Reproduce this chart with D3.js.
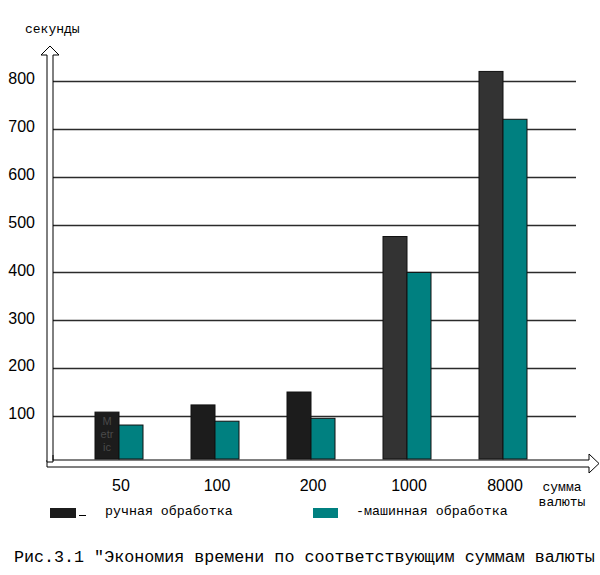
<!DOCTYPE html>
<html><head><meta charset="utf-8">
<script src="https://cdn.jsdelivr.net/npm/d3@7"></script>
<style>body{margin:0;background:#fff}svg{display:block}</style>
</head><body>
<svg id="c" width="600" height="575"></svg>
<script>
const categories = ["50", "100", "200", "1000", "8000"];
const manual = [108, 123, 150, 475, 820];
const machine = [81, 89, 95, 400, 720];
const yTicks = [100, 200, 300, 400, 500, 600, 700, 800];
const seriesNames = ["ручная обработка", "-машинная обработка"];
const yTitle = "секунды";
const xTitle = ["сумма", "валюты"];
const caption = "Рис.3.1 \"Экономия времени по соответствующим суммам валюты";
const barNote = ["M", "etr", "ic"];

const svg = d3.select("#c");
const mono = "'Liberation Mono','Courier New',monospace";
const sans = "'Liberation Sans',Arial,sans-serif";

const y = d3.scaleLinear().domain([10, 800]).range([459, 81]);
const x0 = d3.scaleBand().domain(categories).range([71, 551]).padding(0);
const x1 = d3.scaleBand().domain(["manual", "machine"])
  .range([x0.bandwidth() * 0.25, x0.bandwidth() * 0.75]).padding(0);

// gridlines
svg.append("g").selectAll("line").data(yTicks).join("line")
  .attr("x1", 53).attr("x2", 576)
  .attr("y1", d => Math.round(y(d)) + 0.5).attr("y2", d => Math.round(y(d)) + 0.5)
  .attr("stroke", "#2b2b2b").attr("stroke-width", 1.4);

// y tick labels
const yAxis = d3.axisLeft(y).tickValues(yTicks).tickSize(0).tickPadding(0);
const gy = svg.append("g").attr("transform", "translate(35,0)").call(yAxis);
gy.select(".domain").remove();
gy.selectAll("text").attr("font-family", sans).attr("font-size", 16)
  .attr("fill", "#000").attr("dy", "0.18em");

// bars
const groups = svg.append("g").selectAll("g").data(categories).join("g")
  .attr("transform", d => `translate(${x0(d)},0)`);
groups.append("rect")
  .attr("x", x1("manual")).attr("width", x1.bandwidth())
  .attr("y", (d, i) => y(manual[i])).attr("height", (d, i) => y(10) - y(manual[i]))
  .attr("fill", (d, i) => i < 3 ? "#1c1c1c" : "#333333")
  .attr("stroke", "#111").attr("stroke-width", 1);
groups.append("rect")
  .attr("x", x1("machine")).attr("width", x1.bandwidth())
  .attr("y", (d, i) => y(machine[i])).attr("height", (d, i) => y(10) - y(machine[i]))
  .attr("fill", "#008080")
  .attr("stroke", "#111").attr("stroke-width", 1);

// note in first bar
const noteX = x0(categories[0]) + x1("manual") + x1.bandwidth() / 2;
svg.append("g").selectAll("text").data(barNote).join("text")
  .attr("x", noteX).attr("y", (d, i) => 425 + i * 13.2)
  .attr("text-anchor", "middle").attr("font-family", sans).attr("font-size", 11)
  .attr("fill", "#4a4a4a").text(d => d);

// x axis hollow arrow
svg.append("path")
  .attr("d", "M47,460 L589,460 L589,454 L599,463.5 L589,473 L589,467 L47,467 Z")
  .attr("fill", "#fff").attr("stroke", "#000").attr("stroke-width", 1);
// y axis hollow arrow
svg.append("path")
  .attr("d", "M47,462 L47,55 L41,55 L50,46 L59,55 L53,55 L53,462 Z")
  .attr("fill", "#fff").attr("stroke", "#000").attr("stroke-width", 1);
svg.append("line").attr("x1", 53).attr("x2", 53).attr("y1", 455).attr("y2", 460.5)
  .attr("stroke", "#000");

// x tick labels
const xAxis = d3.axisBottom(x0).tickSize(0).tickPadding(0);
const gx = svg.append("g").attr("transform", "translate(2,491)").call(xAxis);
gx.select(".domain").remove();
gx.selectAll("text").attr("font-family", sans).attr("font-size", 16)
  .attr("fill", "#000").attr("dy", 0);

// titles
svg.append("text").attr("x", 25).attr("y", 33).attr("font-family", mono)
  .attr("font-size", 13).attr("fill", "#000").text(yTitle);
svg.append("g").selectAll("text").data(xTitle).join("text")
  .attr("x", 562).attr("y", (d, i) => 491 + i * 14.5).attr("text-anchor", "middle")
  .attr("font-family", mono).attr("font-size", 13).attr("fill", "#000").text(d => d);

// legend
const legColors = ["#1c1c1c", "#008080"];
const legX = [50, 313];
const legTextX = [105, 356];
svg.append("g").selectAll("rect").data(seriesNames).join("rect")
  .attr("x", (d, i) => legX[i]).attr("y", 508).attr("width", (d, i) => i ? 25 : 26).attr("height", 10)
  .attr("fill", (d, i) => legColors[i]);
svg.append("line").attr("x1", 79).attr("x2", 86).attr("y1", 515.5).attr("y2", 515.5)
  .attr("stroke", "#000").attr("stroke-width", 1);
svg.append("g").selectAll("text").data(seriesNames).join("text")
  .attr("x", (d, i) => legTextX[i]).attr("y", 515)
  .attr("font-family", mono).attr("font-size", 13.3).attr("fill", "#000").text(d => d);

// caption
svg.append("text").attr("x", 14).attr("y", 562).attr("font-family", mono)
  .attr("font-size", 16.7).attr("fill", "#000").text(caption);
</script>
</body></html>
